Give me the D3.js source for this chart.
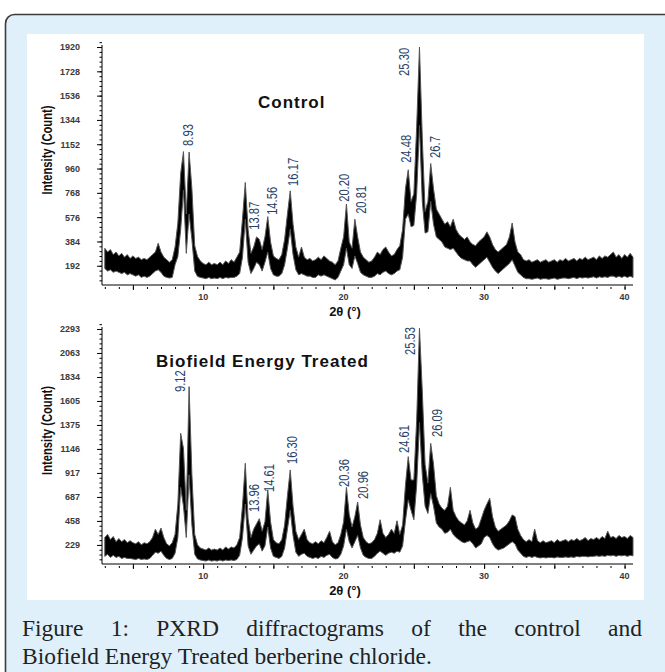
<!DOCTYPE html>
<html>
<head>
<meta charset="utf-8">
<script src="https://cdn.jsdelivr.net/npm/d3@7"></script>
<style>
  body { margin: 0; background: #fff; }
  svg { display: block; }
</style>
</head>
<body>
<div id="chart"></div>
<script>
// PXRD scan, 2θ from 3.0° in 0.2° steps; each sample keeps the low and high edge of the noisy trace
const scanStart = 3.0,
      scanStep = 0.2;

const controlHigh = [
  330,300,320,280,300, 270,290,260,280,250, 270,250,260,240,250, 240,260,280,300,370,
  300,260,240,220,240, 340,530,920,1094,600, 1090,800,350,265,230, 210,200,220,200,210,
  200,220,200,230,210, 240,220,260,300,560, 850,480,290,340,420, 400,320,420,580,380,
  270,250,240,280,400, 600,784,520,340,260, 340,260,240,250,230, 240,260,240,270,250,
  230,220,200,230,330, 420,680,380,330,560, 420,300,260,240,220, 230,260,300,280,320,
  340,300,270,280,320, 350,480,800,950,700, 760,1290,1920,1200,620, 700,1000,800,640,600,
  560,520,540,500,560, 480,440,420,400,420, 380,360,350,380,400, 420,460,420,360,320,
  300,320,340,360,420, 530,380,300,280,240, 230,240,220,230,240, 220,230,240,220,230,
  240,220,240,230,250, 230,240,250,230,250, 240,260,240,250,260, 240,270,250,270,260,
  280,300,260,280,250, 280,260,290,260
];
const controlLow = [
  170,150,160,140,150, 140,130,140,120,130, 120,110,120,100,110, 100,110,130,150,160,
  140,110,100,95,100, 200,265,476,790,290, 600,400,150,108,100, 95,90,100,90,95,
  90,100,90,100,95, 100,100,110,130,260, 560,220,130,170,220, 200,150,220,300,170,
  120,110,110,130,200, 330,480,280,160,120, 130,120,110,110,100, 100,120,110,120,110,
  100,90,80,100,150, 200,330,200,170,270, 210,140,120,110,100, 100,110,130,120,140,
  150,130,120,130,150, 160,260,560,600,500, 510,760,1300,700,450, 460,700,520,420,400,
  380,340,330,320,330, 300,270,250,240,230, 230,200,180,200,220, 240,260,220,180,150,
  130,150,170,190,210, 240,190,140,120,100, 90,90,85,90,95, 85,90,90,85,90,
  95,85,90,95,95, 90,95,100,90,100, 95,100,95,100,105, 95,105,100,105,100,
  110,110,100,110,100, 110,100,110,100
];
const treatedHigh = [
  300,330,280,310,260, 290,260,280,250,270, 250,240,260,230,250, 240,260,300,380,330,
  390,300,240,220,250, 330,620,1296,1150,560, 1742,900,330,230,200, 190,180,200,180,190,
  180,200,180,210,190, 210,200,230,300,600, 1010,480,300,380,430, 480,360,450,755,450,
  280,250,240,280,420, 700,946,600,360,280, 330,380,280,250,240, 260,240,270,250,300,
  360,260,230,250,330, 450,780,520,400,500, 640,420,300,260,240, 250,280,340,470,340,
  300,330,380,340,460, 330,420,800,1073,850, 850,1420,2300,1700,1000, 820,1200,1000,700,620,
  580,560,600,780,560, 500,460,440,420,460, 560,440,380,400,480, 560,620,675,500,400,
  360,380,400,420,460, 516,500,380,320,280, 260,280,260,380,270, 250,270,250,260,270,
  250,280,260,270,280, 260,280,270,290,270, 280,300,270,290,280, 300,280,310,290,360,
  300,310,290,320,300, 310,290,320,300
];
const treatedLow = [
  120,140,110,130,110, 120,100,110,100,100, 95,90,100,90,95, 90,100,130,160,150,
  170,130,100,90,100, 150,300,780,600,300, 900,420,140,95,85, 80,75,85,75,80,
  75,85,75,85,80, 85,80,90,130,300, 620,220,140,180,220, 240,170,220,400,200,
  120,110,100,120,200, 380,560,320,160,120, 140,150,120,110,100, 110,100,120,110,130,
  140,110,95,100,140, 220,380,260,200,260, 320,200,130,110,100, 100,120,150,170,150,
  130,150,160,150,170, 160,220,460,660,560, 470,800,1400,900,600, 530,720,600,440,400,
  380,340,350,380,330, 300,280,260,250,260, 270,240,200,220,240, 300,320,300,240,200,
  180,190,200,220,240, 260,240,180,150,120, 110,120,110,120,110, 105,110,105,110,110,
  105,115,110,110,115, 110,115,110,120,115, 120,120,115,120,120, 125,120,125,120,130,
  125,130,120,130,125, 130,120,130,125
];

// axis ticks
const xTickLabels = [10, 20, 30, 40];
const controlTicks = [192, 384, 576, 768, 960, 1152, 1344, 1536, 1728, 1920];
const treatedTicks = [229.3, 458.6, 687.9, 917.2, 1146.5, 1375.8, 1605.1, 1834.4, 2063.7, 2293];
const treatedTickLabels = ['229', '458', '687', '917', '1146', '1375', '1605', '1834', '2063', '2293'];

// peak annotations: text, 2θ where it stands, counts at its foot
const controlPeaks = ['8.93', '13.87', '14.56', '16.17', '20.20', '20.81', '24.48', '25.30', '26.7'];
const controlPeakAt = [8.94, 13.66, 14.94, 16.37, 20.01, 21.23, 24.44, 24.3, 26.51];
const controlPeakFoot = [1139, 476, 594, 823, 697, 602, 1005, 1692, 1044];
const treatedPeaks = ['9.12', '13.96', '14.61', '16.30', '20.36', '20.96', '24.61', '25.53', '26.09'];
const treatedPeakAt = [8.35, 13.62, 14.66, 16.3, 20.01, 21.37, 24.3, 24.73, 26.66];
const treatedPeakFoot = [1691, 544, 735, 1003, 783, 669, 1108, 2045, 1261];

const caption = ['Figure 1: PXRD diffractograms of the control and',
                 'Biofield Energy Treated berberine chloride.'];

//////////////////////////////////
const width = 665, height = 672;
const plain = '"Liberation Sans", Arial, sans-serif';
const squeeze = 0.8;   // narrow face look for the rotated labels

const $svg = d3.select('#chart').append('svg')
  .attr('width', width)
  .attr('height', height);

// light blue frame and white figure area
$svg.append('rect')
  .attr('x', 5.5).attr('y', 14.5)
  .attr('width', 720).attr('height', 720)
  .attr('rx', 9)
  .attr('fill', '#dff0fb')
  .attr('stroke', '#3c3c3c')
  .attr('stroke-width', 1.6);
$svg.append('rect')
  .attr('x', 27).attr('y', 34)
  .attr('width', 617).attr('height', 566)
  .attr('fill', '#fff');

const x = d3.scaleLinear().domain([2.8, 40.6]).range([102, 633]);

function drawPanel(opt) {
  const y = d3.scaleLinear().domain(opt.yDomain).range([opt.bottom, opt.top]);
  const $g = $svg.append('g');
  const top = opt.yDomain[1];

  const pts = opt.high.map((h, i) => ({
    t: scanStart + i * scanStep,
    h: Math.min(h, top),
    l: opt.low[i]
  }));

  const area = d3.area()
    .x(d => x(d.t))
    .y0(d => y(d.l))
    .y1(d => y(d.h));

  $g.append('path')
    .datum(pts)
    .attr('d', area)
    .attr('fill', '#000')
    .attr('stroke', '#555')
    .attr('stroke-width', 1)
    .attr('stroke-linejoin', 'miter');

  // y axis: labelled ticks and 4 minor ticks between them
  const step = opt.ticks[1] - opt.ticks[0];
  const minor = d3.range(opt.yDomain[0], top, step / 5).map(v => Math.ceil(v / (step / 5)) * (step / 5));
  $g.append('g')
    .attr('transform', 'translate(102,0)')
    .call(d3.axisLeft(y).tickValues(minor).tickSize(2.5).tickFormat(''))
    .call(s => s.select('.domain').remove());
  $g.append('g')
    .attr('transform', 'translate(102,0)')
    .call(d3.axisLeft(y).tickValues(opt.ticks).tickSize(5).tickPadding(17)
      .tickFormat((d, i) => opt.tickLabels[i]))
    .call(s => s.select('.domain').remove())
    .call(s => s.selectAll('text')
      .attr('font-family', plain)
      .attr('font-size', 9)
      .attr('font-weight', 'bold')
      .attr('fill', '#3a3a3a'));
  $g.append('line')
    .attr('x1', 102).attr('x2', 102)
    .attr('y1', opt.top).attr('y2', opt.bottom)
    .attr('stroke', '#000');

  // x axis
  $g.append('line')
    .attr('x1', 102).attr('x2', 633)
    .attr('y1', opt.bottom).attr('y2', opt.bottom)
    .attr('stroke', '#000');
  $g.append('g')
    .attr('transform', `translate(0,${opt.bottom + 2})`)
    .call(d3.axisBottom(x).tickValues(d3.range(3, 41, 1)).tickSize(2).tickFormat(''))
    .call(s => s.select('.domain').remove());
  $g.append('g')
    .attr('transform', `translate(0,${opt.bottom})`)
    .call(d3.axisBottom(x).tickValues(d3.range(5, 41, 5)).tickSize(5).tickFormat(''))
    .call(s => s.select('.domain').remove());
  $g.selectAll('.xlab')
    .data(xTickLabels)
    .enter().append('text')
    .attr('x', d => x(d))
    .attr('y', opt.bottom + 15)
    .attr('text-anchor', 'middle')
    .attr('font-family', plain)
    .attr('font-size', 9)
    .attr('font-weight', 'bold')
    .attr('fill', '#3a3a3a')
    .text(d => d);

  $g.append('text')
    .attr('x', 345)
    .attr('y', opt.bottom + 31)
    .attr('text-anchor', 'middle')
    .attr('font-family', plain)
    .attr('font-size', 13)
    .attr('font-weight', 'bold')
    .attr('fill', '#111')
    .text('2θ (°)');

  $g.append('text')
    .attr('transform', `translate(47,${(opt.top + opt.bottom) / 2 - 15}) rotate(-90) scale(${squeeze},1)`)
    .attr('text-anchor', 'middle')
    .attr('dy', '0.35em')
    .attr('font-family', plain)
    .attr('font-size', 14)
    .attr('font-weight', 'bold')
    .attr('fill', '#111')
    .text('Intensity (Count)');

  // panel name
  $g.append('text')
    .attr('x', opt.titleX)
    .attr('y', opt.titleY)
    .attr('font-family', plain)
    .attr('font-size', 17)
    .attr('font-weight', 'bold')
    .attr('letter-spacing', 1)
    .attr('fill', '#111')
    .text(opt.title);

  // peak positions
  $g.selectAll('.peak')
    .data(opt.peaks)
    .enter().append('text')
    .attr('transform', (d, i) =>
      `translate(${x(opt.peakAt[i])},${y(opt.peakFoot[i])}) rotate(-90) scale(${squeeze},1)`)
    .attr('dy', '0.35em')
    .attr('font-family', plain)
    .attr('font-size', 14)
    .attr('fill', '#2a3f66')
    .text(d => d);
}

drawPanel({
  high: controlHigh, low: controlLow,
  yDomain: [40, 1936], top: 45, bottom: 285,
  ticks: controlTicks, tickLabels: controlTicks.map(String),
  peaks: controlPeaks, peakAt: controlPeakAt, peakFoot: controlPeakFoot,
  title: 'Control', titleX: 258, titleY: 108
});

drawPanel({
  high: treatedHigh, low: treatedLow,
  yDomain: [47, 2312], top: 327, bottom: 564,
  ticks: treatedTicks, tickLabels: treatedTickLabels,
  peaks: treatedPeaks, peakAt: treatedPeakAt, peakFoot: treatedPeakFoot,
  title: 'Biofield Energy Treated', titleX: 156, titleY: 367
});

// caption: serif, first line justified between the panel edges
const capFont = '"Liberation Serif", "DejaVu Serif", serif';
const $tmp = $svg.append('text').attr('font-family', capFont).attr('font-size', 20);
$tmp.text(caption[1]);
const capSize = 20 * 410 / $tmp.node().getComputedTextLength();
$tmp.attr('font-size', capSize);
const words = caption[0].split(' ');
const widths = words.map(w => { $tmp.text(w); return $tmp.node().getComputedTextLength(); });
$tmp.remove();
const gap = (642 - 22 - d3.sum(widths)) / (words.length - 1);
let cx = 22;
words.forEach((w, i) => {
  $svg.append('text')
    .attr('x', cx).attr('y', 636)
    .attr('font-family', capFont)
    .attr('font-size', capSize)
    .attr('fill', '#222')
    .text(w);
  cx += widths[i] + gap;
});
$svg.append('text')
  .attr('x', 22).attr('y', 664)
  .attr('font-family', capFont)
  .attr('font-size', capSize)
  .attr('fill', '#222')
  .text(caption[1]);
</script>
</body>
</html>
